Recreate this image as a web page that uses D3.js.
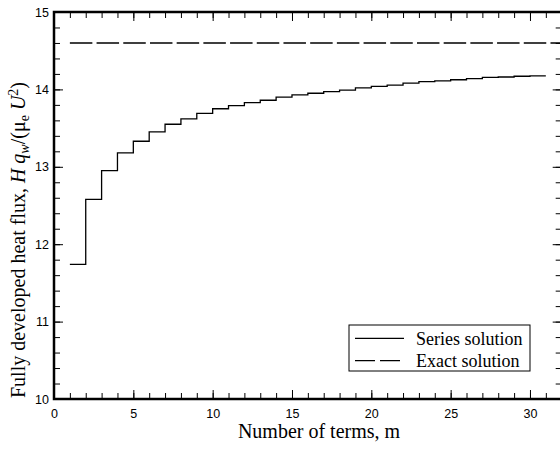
<!DOCTYPE html>
<html>
<head>
<meta charset="utf-8">
<script src="https://cdn.jsdelivr.net/npm/d3@7/dist/d3.min.js"></script>
<style>
body { margin: 0; background: #fff; }
.tick text { font-family: "Liberation Sans", Arial, sans-serif; font-size: 12.5px; fill: #000; }
.tick line { stroke: #000; stroke-width: 1; }
</style>
</head>
<body>
<div id="chart"></div>
<script>
// number of terms m and the series value after m terms
var terms = [1,2,3,4,5,6,7,8,9,10,11,12,13,14,15,16,17,18,19,20,21,22,23,24,25,26,27,28,29,30];
var seriesValues = [11.74,12.58,12.95,13.18,13.33,13.45,13.55,13.62,13.69,13.75,
                    13.79,13.83,13.86,13.90,13.93,13.95,13.97,13.99,14.02,14.04,
                    14.056,14.08,14.10,14.11,14.125,14.14,14.155,14.16,14.17,14.175];
var exactValue = 14.6;
var xTickLabels = [0,5,10,15,20,25,30];
var yTickLabels = [10,11,12,13,14,15];
var legendNames = ['Series solution', 'Exact solution'];

var margin = {top: 12, left: 54},
    width = 507.7,
    height = 387;

var svg = d3.select('#chart')
  .append('svg')
    .attr('width', 560)
    .attr('height', 449)
  .append('g')
    .attr('transform', 'translate(' + margin.left + ',' + margin.top + ')');

var x = d3.scaleLinear().domain([0, 32]).range([0, width]);
var y = d3.scaleLinear().domain([10, 15]).range([height, 0]);

var xMinor = d3.range(0, 33, 1);
var yMinor = d3.range(0, 26).map(function(i) { return 10 + i * 0.2; });

// minor ticks, all four sides, pointing inward
svg.append('g').attr('transform', 'translate(0,' + height + ')')
  .call(d3.axisBottom(x).tickValues(xMinor).tickSize(-6).tickFormat(''));
svg.append('g')
  .call(d3.axisTop(x).tickValues(xMinor).tickSize(-6).tickFormat(''));
svg.append('g')
  .call(d3.axisLeft(y).tickValues(yMinor).tickSize(-6).tickFormat(''));
svg.append('g').attr('transform', 'translate(' + width + ',0)')
  .call(d3.axisRight(y).tickValues(yMinor).tickSize(-6).tickFormat(''));

// major ticks
svg.append('g').attr('transform', 'translate(0,' + height + ')')
  .call(d3.axisBottom(x).tickValues(xTickLabels).tickSize(-9).tickPadding(10).tickFormat(d3.format('d')));
svg.append('g')
  .call(d3.axisTop(x).tickValues(xTickLabels).tickSize(-9).tickFormat(''));
svg.append('g')
  .call(d3.axisLeft(y).tickValues(yTickLabels).tickSize(-9).tickPadding(5).tickFormat(d3.format('d')));
svg.append('g').attr('transform', 'translate(' + width + ',0)')
  .call(d3.axisRight(y).tickValues(yTickLabels).tickSize(-9).tickFormat(''));

svg.selectAll('.domain').remove();

svg.append('rect')
  .attr('x', 0).attr('y', 0)
  .attr('width', width).attr('height', height)
  .attr('fill', 'none')
  .attr('stroke', '#000')
  .attr('stroke-width', 2.5);

// exact solution
svg.append('line')
  .attr('x1', x(terms[0])).attr('x2', x(32))
  .attr('y1', y(exactValue)).attr('y2', y(exactValue))
  .attr('stroke', '#000')
  .attr('stroke-width', 1.4)
  .attr('stroke-dasharray', '22.5,4.2');

// series solution, one step per term
var pts = terms.map(function(m, i) { return [m, seriesValues[i]]; });
pts.push([terms[terms.length - 1] + 1, seriesValues[seriesValues.length - 1]]);
var line = d3.line()
  .curve(d3.curveStepAfter)
  .x(function(d) { return x(d[0]); })
  .y(function(d) { return y(d[1]); });
svg.append('path')
  .datum(pts)
  .attr('d', line)
  .attr('fill', 'none')
  .attr('stroke', '#000')
  .attr('stroke-width', 1.3);

// legend
var lg = svg.append('g').attr('transform', 'translate(' + (349 - margin.left) + ',' + (325 - margin.top) + ')');
lg.append('rect')
  .attr('width', 181).attr('height', 46)
  .attr('fill', '#fff')
  .attr('stroke', '#000')
  .attr('stroke-width', 1);
legendNames.forEach(function(name, i) {
  var ly = 13.3 + i * 22.4;
  lg.append('line')
    .attr('x1', 6).attr('x2', 55)
    .attr('y1', ly).attr('y2', ly)
    .attr('stroke', '#000')
    .attr('stroke-width', 1.3)
    .attr('stroke-dasharray', i == 1 ? '20,5' : null);
  lg.append('text')
    .attr('x', 67).attr('y', ly)
    .attr('dy', '0.35em')
    .style('font-family', '"Liberation Serif", "Times New Roman", serif')
    .style('font-size', '18px')
    .text(name);
});

// axis titles
svg.append('text')
  .attr('x', 319 - margin.left)
  .attr('y', 438 - margin.top)
  .attr('text-anchor', 'middle')
  .style('font-family', '"Liberation Serif", "Times New Roman", serif')
  .style('font-size', '20px')
  .text('Number of terms, m');

var yt = svg.append('text')
  .attr('transform', 'translate(' + (18 - margin.left) + ',' + (240 - margin.top) + ') rotate(-90)')
  .attr('text-anchor', 'middle')
  .attr('dy', '0.35em')
  .style('font-family', '"Liberation Serif", "Times New Roman", serif')
  .style('font-size', '20px');
yt.append('tspan').text('Fully developed heat flux, ');
yt.append('tspan').style('font-style', 'italic').text('H q');
yt.append('tspan').style('font-style', 'italic').style('font-size', '14px').attr('baseline-shift', '-4').text('w');
yt.append('tspan').text('/(\u03bc');
yt.append('tspan').style('font-size', '14px').attr('baseline-shift', '-4').text('e');
yt.append('tspan').style('font-style', 'italic').text(' U');
yt.append('tspan').style('font-size', '14px').attr('baseline-shift', '7').text('2');
yt.append('tspan').text(')');
</script>
</body>
</html>
